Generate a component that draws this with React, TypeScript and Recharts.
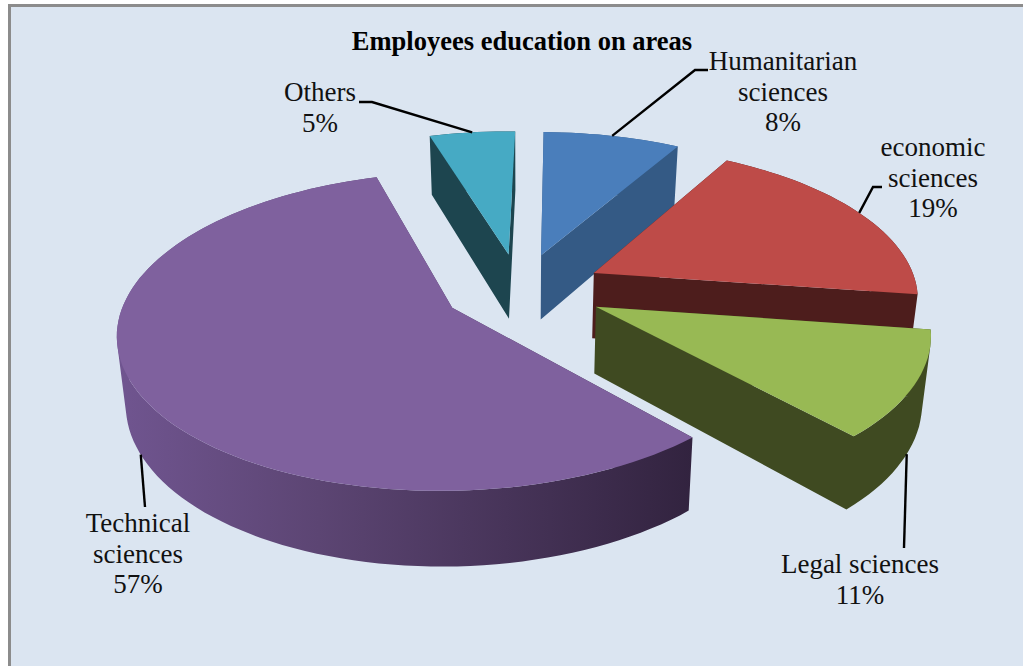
import React from 'react'
import { PieChart, Pie } from 'recharts'

const categories = ['Humanitarian\nsciences', 'economic\nsciences', 'Legal sciences', 'Technical\nsciences', 'Others']
const shares = [8, 19, 11, 57, 5]
const topColors = ['#4a7ebb', '#be4b48', '#98b954', '#7f619e', '#46aac4']
const wallColors = ['#345a85', '#4d1d1c', '#3f4a21', 'url(#technicalWall)', '#1d454f']
const explosions = [78, 80, 80, 80, 78]
const sideways = [-2, 0, 1, 0, -4]

const data = categories.map((name, i) => ({ name, value: shares[i], fill: topColors[i] }))

// text centre, first baseline and the leader's bend for each slice label
const labelSpots = [
  { x: 783, y: 70, bend: [[695, 70], [708, 70]], low: false, shift: 0 },
  { x: 933, y: 156, bend: [[873, 187], [882, 187]], low: false, shift: 0 },
  { x: 860, y: 573, bend: [[904, 548]], low: true, shift: 0.6 },
  { x: 138, y: 532, bend: [[145, 507]], low: true, shift: -2.4 },
  { x: 320, y: 101, bend: [[372, 102], [359, 102]], low: false, shift: 0 },
]

const RADIAN = Math.PI / 180
const FONT = '"Liberation Serif", "Times New Roman", serif'
const CX = 523
const CY = 289
const RADIUS = 324
const CAMERA = 2215 // distance used for the perspective divide
const TILT = 1028
const DEPTH = 66

// ground plane (u right, v towards the viewer) to screen, optionally on the lower face
const project = (u: number, v: number, lower = false) => {
  const s = CAMERA / (CAMERA - v)
  const x = CX + u * s
  const y = CY + (TILT * v) / (CAMERA - v)
  if (!lower) return [x, y]
  return [CX + (x - CX) * 0.978, y + DEPTH * (1 + 0.75 * (s - 1))]
}

const rimPoint = (angle: number, midAngle: number, index: number, lower = false) => {
  const explode = explosions[index]
  const u = RADIUS * Math.cos(angle * RADIAN) + explode * Math.cos(midAngle * RADIAN) + sideways[index]
  const v = -RADIUS * Math.sin(angle * RADIAN) - explode * Math.sin(midAngle * RADIAN)
  return project(u, v, lower)
}

const toPath = (pts: number[][]) =>
  pts.map((p, i) => `${i ? 'L' : 'M'}${p[0].toFixed(1)},${p[1].toFixed(1)}`).join(' ') + ' Z'

// same winding on every quad, so one non-zero path fills them without seams
const clockwise = (pts: number[][]) => {
  const area = pts.reduce((sum, p, i) => {
    const q = pts[(i + 1) % pts.length]
    return sum + p[0] * q[1] - q[0] * p[1]
  }, 0)
  return area < 0 ? [...pts].reverse() : pts
}

// eslint-disable-next-line @typescript-eslint/no-explicit-any
const renderSlice = (props: any) => {
  const { startAngle, endAngle, fill, index } = props
  const midAngle = (startAngle + endAngle) / 2
  const explode = explosions[index]
  const steps = Math.max(2, Math.ceil(Math.abs(endAngle - startAngle) / 2))
  const angles = Array.from({ length: steps + 1 }, (_, i) => startAngle + ((endAngle - startAngle) * i) / steps)

  const apexU = explode * Math.cos(midAngle * RADIAN) + sideways[index]
  const apexV = -explode * Math.sin(midAngle * RADIAN)
  const top = [project(apexU, apexV), ...angles.map((a) => rimPoint(a, midAngle, index))]
  const bottom = [project(apexU, apexV, true), ...angles.map((a) => rimPoint(a, midAngle, index, true))]
  const walls = top.map((p, i) => {
    const next = (i + 1) % top.length
    return toPath(clockwise([p, top[next], bottom[next], bottom[i]]))
  })

  return (
    <g>
      <path d={walls.join(' ')} fill={wallColors[index]} stroke='none' />
      <path d={toPath(top)} fill={fill} stroke='none' />
    </g>
  )
}

// eslint-disable-next-line @typescript-eslint/no-explicit-any
const renderLabel = (props: any) => {
  const { index, midAngle, name, value } = props
  const spot = labelSpots[index]
  const start = rimPoint(midAngle + spot.shift, midAngle, index, spot.low)
  const lines = [...String(name).split('\n'), `${value}%`]
  return (
    <g key={`label-${index}`}>
      <polyline
        points={[start, ...spot.bend].map((p) => p.join(',')).join(' ')}
        fill='none'
        stroke='#000'
        strokeWidth={2.4}
      />
      <text x={spot.x} y={spot.y} textAnchor='middle' fontFamily={FONT} fontSize={27} fill='#111'>
        {lines.map((line, i) => (
          <tspan key={line} x={spot.x} y={spot.y + i * 30.5}>
            {line}
          </tspan>
        ))}
      </text>
    </g>
  )
}

export default function App() {
  return (
    <div style={{ position: 'absolute', left: 0, top: 0, width: 1023, height: 666, overflow: 'hidden', background: '#fff' }}>
      <div
        style={{
          position: 'absolute',
          left: 8,
          top: 4,
          width: 1100,
          height: 800,
          background: '#dbe5f1',
          borderLeft: '3px solid #8c8c8c',
          borderTop: '3px solid #8c8c8c',
        }}
      />
      <PieChart width={1023} height={666} style={{ position: 'absolute', left: 0, top: 0 }}>
        <defs>
          <linearGradient id='technicalWall' gradientUnits='userSpaceOnUse' x1={117} y1={0} x2={693} y2={0}>
            <stop offset='0' stopColor='#705590' />
            <stop offset='0.35' stopColor='#5c4573' />
            <stop offset='1' stopColor='#32233f' />
          </linearGradient>
        </defs>
        <text x={522} y={50} textAnchor='middle' fontFamily={FONT} fontSize={26.5} fontWeight='bold' fill='#000'>
          Employees education on areas
        </text>
        <Pie
          data={data}
          dataKey='value'
          nameKey='name'
          cx={CX}
          cy={CY}
          outerRadius={RADIUS}
          startAngle={89}
          endAngle={-271}
          shape={renderSlice}
          label={renderLabel}
          labelLine={false}
          isAnimationActive={false}
        />
      </PieChart>
    </div>
  )
}
